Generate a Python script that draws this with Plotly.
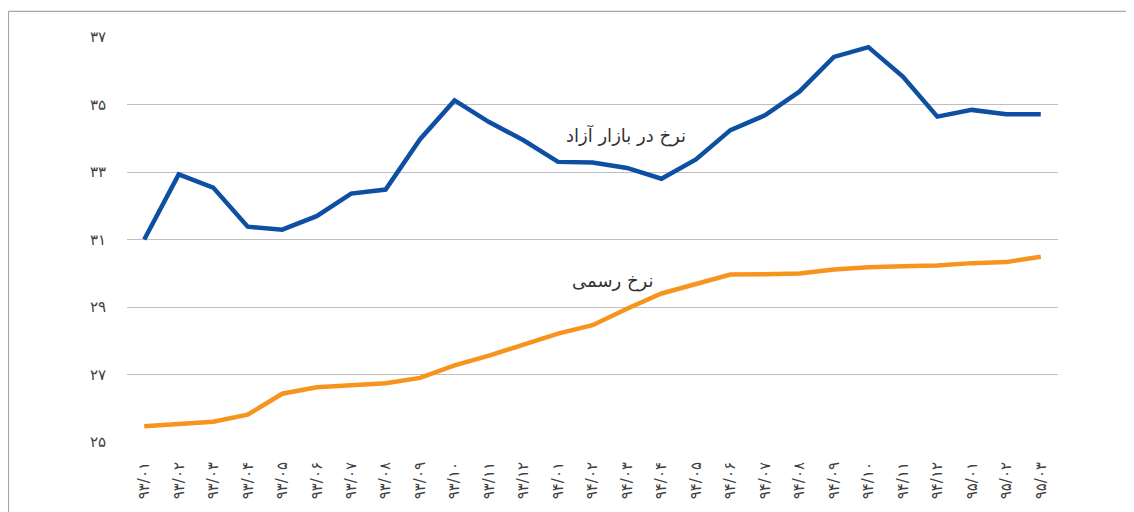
import plotly.graph_objects as go

categories = ["۹۳/۰۱", "۹۳/۰۲", "۹۳/۰۳", "۹۳/۰۴", "۹۳/۰۵", "۹۳/۰۶", "۹۳/۰۷", "۹۳/۰۸", "۹۳/۰۹",
              "۹۳/۱۰", "۹۳/۱۱", "۹۳/۱۲", "۹۴/۰۱", "۹۴/۰۲", "۹۴/۰۳", "۹۴/۰۴", "۹۴/۰۵", "۹۴/۰۶",
              "۹۴/۰۷", "۹۴/۰۸", "۹۴/۰۹", "۹۴/۱۰", "۹۴/۱۱", "۹۴/۱۲", "۹۵/۰۱", "۹۵/۰۲", "۹۵/۰۳"]

free_market = [31.0, 32.93, 32.54, 31.38, 31.29, 31.69, 32.36, 32.48, 33.97, 35.12,
               34.48, 33.94, 33.30, 33.28, 33.12, 32.80, 33.37, 34.24, 34.68, 35.38,
               36.41, 36.70, 35.83, 34.64, 34.84, 34.71, 34.71]

official = [25.47, 25.53, 25.60, 25.81, 26.43, 26.62, 26.68, 26.74, 26.90, 27.27,
            27.56, 27.88, 28.21, 28.46, 28.95, 29.40, 29.69, 29.96, 29.97, 29.99,
            30.11, 30.18, 30.21, 30.23, 30.30, 30.33, 30.49]

y_ticks = [25, 27, 29, 31, 33, 35, 37]
y_tick_labels = ["۲۵", "۲۷", "۲۹", "۳۱", "۳۳", "۳۵", "۳۷"]

label_free = "نرخ در بازار آزاد"
label_official = "نرخ رسمی"

xs = list(range(len(categories)))

fig = go.Figure()
fig.add_trace(go.Scatter(x=xs, y=free_market, mode="lines",
                         line=dict(color="#0d4fa2", width=4.5), showlegend=False))
fig.add_trace(go.Scatter(x=xs, y=official, mode="lines",
                         line=dict(color="#f7941d", width=4.5), showlegend=False))

fig.add_annotation(x=13.96, y=34.08, text=label_free, showarrow=False,
                   font=dict(size=18, color="#333333", family="DejaVu Sans"))
fig.add_annotation(x=13.58, y=29.78, text=label_official, showarrow=False,
                   font=dict(size=18, color="#333333", family="DejaVu Sans"))

# outer chart border (top and left edges; the rest falls outside the picture)
fig.add_shape(type="line", xref="paper", yref="paper",
              x0=-0.1273, x1=1.2, y0=1.0635, y1=1.0635,
              line=dict(color="#a6a6a6", width=1.2))
fig.add_shape(type="line", xref="paper", yref="paper",
              x0=-0.1273, x1=-0.1273, y0=-0.3, y1=1.0635,
              line=dict(color="#a6a6a6", width=1.2))

fig.update_layout(
    width=1134, height=512,
    margin=dict(l=119, r=84, t=29, b=78),
    paper_bgcolor="white", plot_bgcolor="white",
    font=dict(family="DejaVu Sans", color="#404040", size=14),
    xaxis=dict(range=[-0.5, 26.5], tickmode="array", tickvals=xs, ticktext=categories,
               tickangle=-90, showgrid=False, zeroline=False, showline=False,
               ticks="", ticklabelstandoff=16, tickfont=dict(size=15)),
    yaxis=dict(range=[25, 37], tickmode="array", tickvals=y_ticks, ticktext=y_tick_labels,
               showgrid=True, gridcolor="#bfbfbf", gridwidth=1, zeroline=False,
               showline=False, ticks="", ticklabelstandoff=20, tickfont=dict(size=15)),
)

fig.write_html("out.html")
